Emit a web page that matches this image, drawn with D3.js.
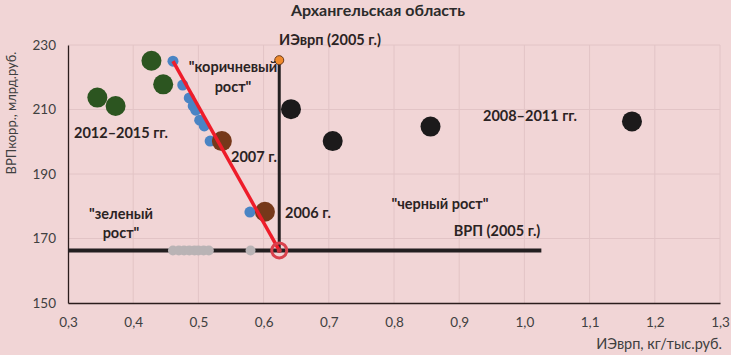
<!DOCTYPE html>
<html><head><meta charset="utf-8">
<script src="https://cdn.jsdelivr.net/npm/d3@7"></script>
<style>
html,body{margin:0;padding:0;background:#f1d5d6;}
svg{display:block;font-family:Lato,"Open Sans",sans-serif;}
</style></head><body>
<svg id="c" width="731" height="355"></svg>
<script>
const xTicks = [0.3,0.4,0.5,0.6,0.7,0.8,0.9,1.0,1.1,1.2,1.3];
const yTicks = [150,170,190,210,230];
// blue series (brown growth path)
const blueX = [0.461,0.476,0.486,0.492,0.496,0.502,0.509,0.518,0.579];
const blueY = [225.0,217.6,213.6,211.1,209.8,206.7,204.9,200.2,178.2];
// gray projections on baseline
const grayX = [0.461,0.470,0.478,0.486,0.494,0.500,0.508,0.516,0.580];
const grayY = [166.3,166.3,166.3,166.3,166.3,166.3,166.3,166.3,166.3];
// green 2012-2015
const greenX = [0.428,0.446,0.345,0.373];
const greenY = [225.1,217.8,213.7,211.1];
// brown 2006, 2007
const brownX = [0.602,0.536];
const brownY = [178.3,200.2];
// black 2008-2011
const blackX = [0.642,0.706,0.856,1.165];
const blackY = [210.1,200.2,204.7,206.3];
// reference 2005
const baseX = 0.624, baseY = 166.3, topY = 225.3, lineEndX = 1.026;
const trendX = [0.461,0.624], trendY = [225.0,166.3];

const svg = d3.select("#c");
const x = d3.scaleLinear().domain([0.3,1.3]).range([68,720]);
const y = d3.scaleLinear().domain([150,230]).range([303,45]);

// grid
svg.append("g").selectAll("line").data(xTicks.slice(1)).join("line")
  .attr("x1",d=>x(d)).attr("x2",d=>x(d)).attr("y1",y(230)).attr("y2",y(150))
  .attr("stroke","#e2c4c6").attr("stroke-width",1);
svg.append("g").selectAll("line").data(yTicks.slice(1)).join("line")
  .attr("x1",x(0.3)).attr("x2",x(1.3)).attr("y1",d=>y(d)).attr("y2",d=>y(d))
  .attr("stroke","#e2c4c6").attr("stroke-width",1);

// axes
const xa = svg.append("g").attr("transform",`translate(0,${y(150)})`)
  .call(d3.axisBottom(x).tickValues(xTicks).tickSize(0).tickPadding(14).tickFormat(d=>d3.format(".1f")(d).replace(".",",")));
const ya = svg.append("g").attr("transform",`translate(${x(0.3)},0)`)
  .call(d3.axisLeft(y).tickValues(yTicks).tickSize(0).tickPadding(12));
[xa,ya].forEach(a=>{
  a.select(".domain").attr("stroke","#2b1d1d").attr("stroke-width",1.3);
  a.selectAll("text").attr("font-family","Lato, sans-serif").attr("font-size",13.5).attr("fill","#404040");
});

// title
svg.append("text").attr("x",378).attr("y",16).attr("text-anchor","middle")
  .attr("font-size",16).attr("font-weight","bold").attr("fill","#2b2b2b").text("Архангельская область");
// axis titles
svg.append("text").attr("transform","translate(16,113) rotate(-90)").attr("text-anchor","middle")
  .attr("font-size",13).attr("fill","#404040").text("ВРПкорр., млрд.руб.");
svg.append("text").attr("x",722).attr("y",349).attr("text-anchor","end")
  .attr("font-size",14.5).attr("fill","#404040").text("ИЭврп, кг/тыс.руб.");

// reference lines
svg.append("line").attr("x1",x(0.3)).attr("x2",x(lineEndX)).attr("y1",y(baseY)).attr("y2",y(baseY))
  .attr("stroke","#231f20").attr("stroke-width",4);
svg.append("line").attr("x1",x(baseX)).attr("x2",x(baseX)).attr("y1",y(baseY)).attr("y2",y(topY))
  .attr("stroke","#231f20").attr("stroke-width",3);

// gray points
svg.append("g").selectAll("circle").data(grayX.map((v,i)=>[v,grayY[i]])).join("circle")
  .attr("cx",d=>x(d[0])).attr("cy",d=>y(d[1])).attr("r",5).attr("fill","#b9b3b5");
// blue points
svg.append("g").selectAll("circle").data(blueX.map((v,i)=>[v,blueY[i]])).join("circle")
  .attr("cx",d=>x(d[0])).attr("cy",d=>y(d[1])).attr("r",5.5).attr("fill","#4a84c4");
// green
svg.append("g").selectAll("circle").data(greenX.map((v,i)=>[v,greenY[i]])).join("circle")
  .attr("cx",d=>x(d[0])).attr("cy",d=>y(d[1])).attr("r",10).attr("fill","#2c5520");
// brown
svg.append("g").selectAll("circle").data(brownX.map((v,i)=>[v,brownY[i]])).join("circle")
  .attr("cx",d=>x(d[0])).attr("cy",d=>y(d[1])).attr("r",10).attr("fill","#76381a");
// black
svg.append("g").selectAll("circle").data(blackX.map((v,i)=>[v,blackY[i]])).join("circle")
  .attr("cx",d=>x(d[0])).attr("cy",d=>y(d[1])).attr("r",10).attr("fill","#1c1a1b");

// red trend line
svg.append("line").attr("x1",x(trendX[0])).attr("y1",y(trendY[0])).attr("x2",x(trendX[1])).attr("y2",y(trendY[1]))
  .attr("stroke","#ee1c2a").attr("stroke-width",3.5);
// red ring
svg.append("circle").attr("cx",x(baseX)).attr("cy",y(baseY)).attr("r",7.5)
  .attr("fill","none").attr("stroke","#d9414c").attr("stroke-width",3);
svg.append("circle").attr("cx",x(baseX)).attr("cy",y(baseY)).attr("r",2.5).attr("fill","#c8323c");
// orange
svg.append("circle").attr("cx",x(baseX)).attr("cy",y(topY)).attr("r",4.5)
  .attr("fill","#f08a2c").attr("stroke","#6b3a1a").attr("stroke-width",1);

// labels
const labels = [
  ["ИЭврп (2005 г.)",330,45,"middle"],
  ["\"коричневый",233,72,"middle"],
  ["рост\"",233,92,"middle"],
  ["2012–2015 гг.",74,138,"start"],
  ["2007 г.",231,162,"start"],
  ["2006 г.",285,218,"start"],
  ["\"зеленый",121,219,"middle"],
  ["рост\"",121,238,"middle"],
  ["\"черный рост\"",440,209,"middle"],
  ["ВРП (2005 г.)",497,236,"middle"],
  ["2008–2011 гг.",530,121,"middle"]
];
svg.append("g").selectAll("text").data(labels).join("text")
  .attr("x",d=>d[1]).attr("y",d=>d[2]).attr("text-anchor",d=>d[3])
  .attr("font-size",14.5).attr("font-weight","bold").attr("fill","#2b2323").text(d=>d[0]);
</script></body></html>
